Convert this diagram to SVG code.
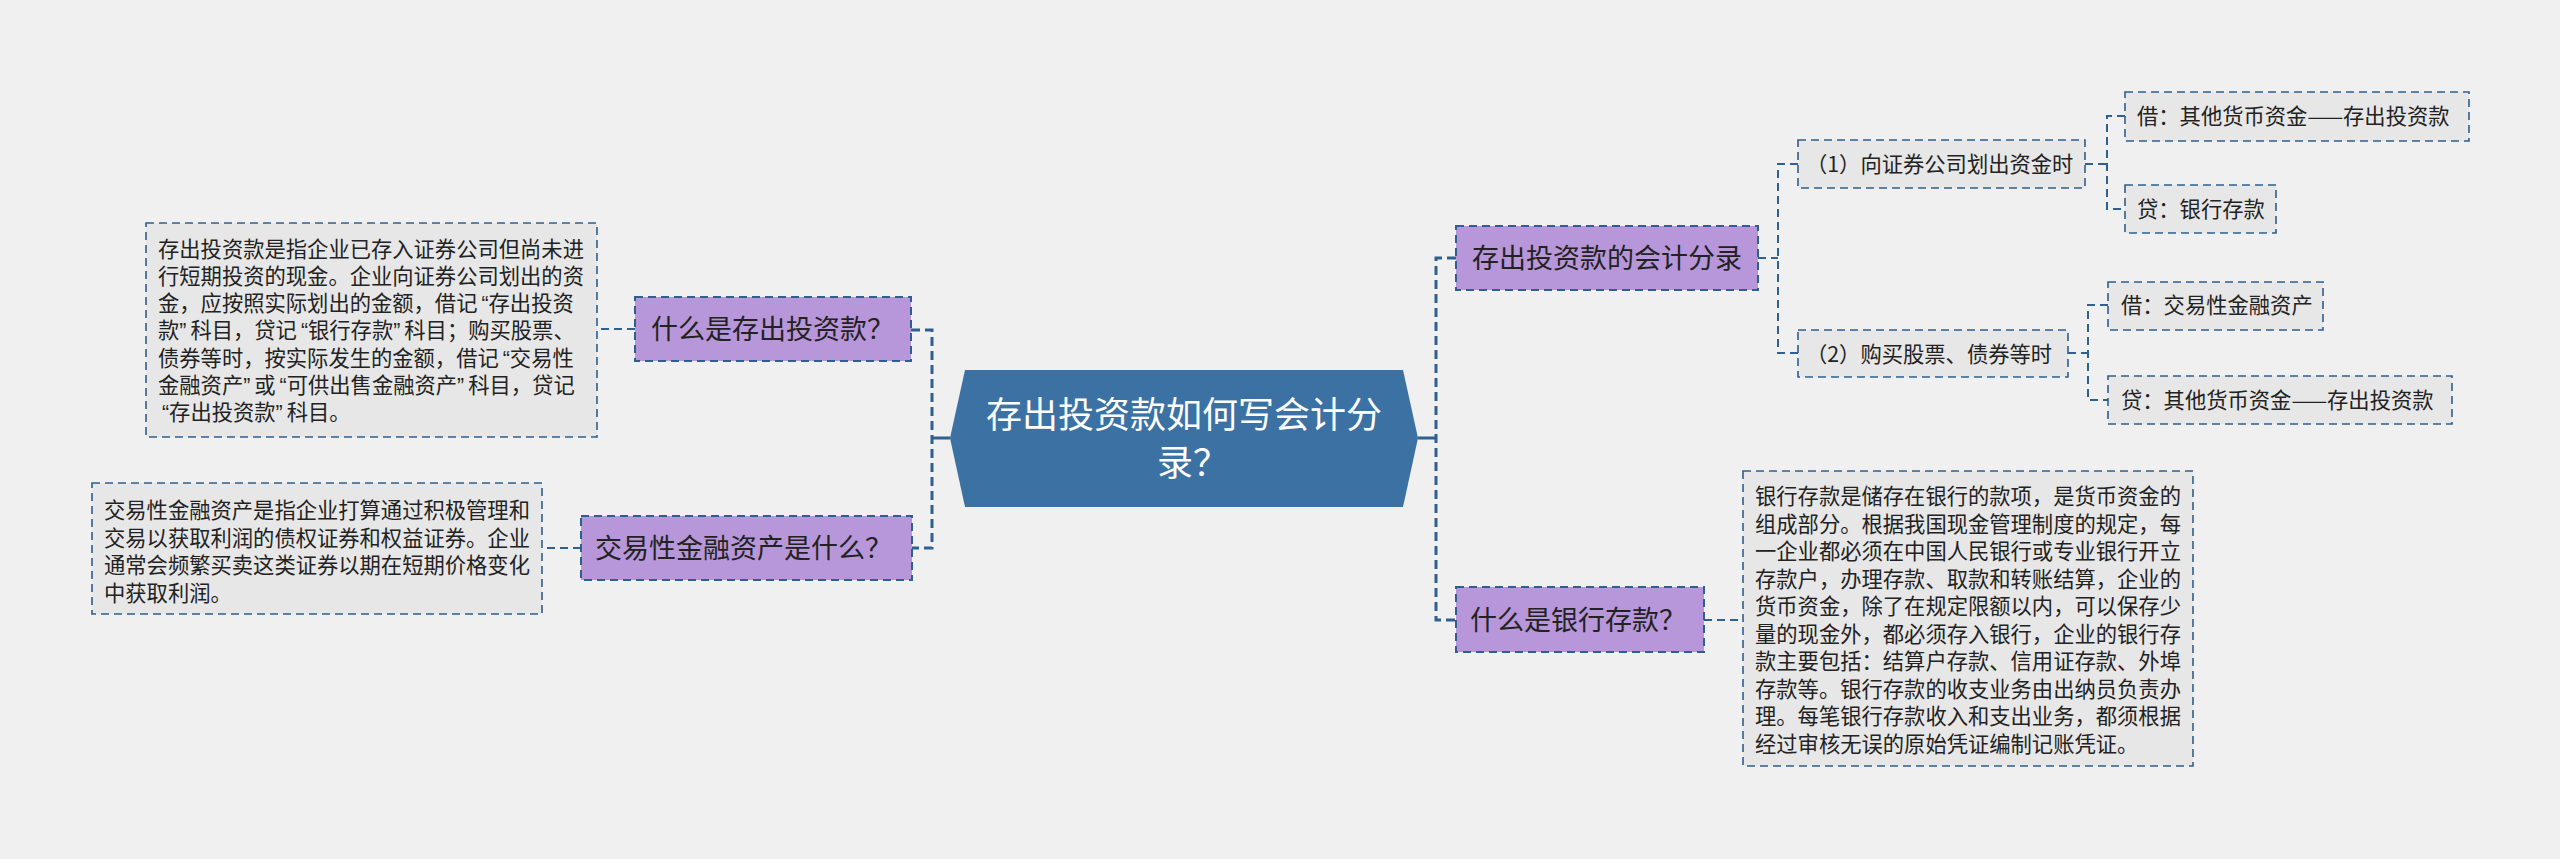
<svg xmlns="http://www.w3.org/2000/svg" width="2560" height="859" viewBox="0 0 2560 859">
<style>
.bg{fill:#f0f0f0}
.topic{fill:#b796d9;stroke:#2f5f8c;stroke-width:2;stroke-dasharray:8 5}
.box{fill:#e7e7e7;stroke:#2f5f8c;stroke-width:1.6;stroke-dasharray:8 5}
.t{font-family:"Noto Sans CJK SC","Noto Sans",sans-serif;fill:#222}
.s{font-size:21.3px}
.m{font-size:27px}
.c{font-size:36px;fill:#ffffff}
.q{font-family:"Liberation Sans",Arial,sans-serif}
.qc{font-family:"Liberation Sans",Arial,sans-serif;letter-spacing:4px}
.con{fill:none;stroke:#2f6090;stroke-width:2;stroke-dasharray:8 5}
.con1{fill:none;stroke:#2f6090;stroke-width:3;stroke-dasharray:9 5}
.solid{fill:none;stroke:#2f6090;stroke-width:3}
</style>
<rect class="bg" x="0" y="0" width="2560" height="859"/>
<g id="connectors">
<path class="solid" d="M950 438 H932"/>
<path class="con1" d="M911 330 H932 V548 H912"/>
<path class="solid" d="M1418 438 H1436"/>
<path class="con1" d="M1456 258 H1436 V620 H1456"/>
<path class="con" d="M635 329 H597"/>
<path class="con" d="M581 548 H542"/>
<path class="con" d="M1758 258 H1778"/>
<path class="con" d="M1798 164 H1778 V353 H1798"/>
<path class="con" d="M2085 164 H2107"/>
<path class="con" d="M2125 116 H2107 V209 H2125"/>
<path class="con" d="M2068 353 H2088"/>
<path class="con" d="M2108 305 H2088 V400 H2108"/>
<path class="con" d="M1704 620 H1743"/>
</g>
<g id="root">
<polygon points="965,370 1403,370 1418,438 1403,507 965,507 950,438" fill="#3c71a4"/>
<text class="t c" x="1184" y="428" text-anchor="middle">存出投资款如何写会计分</text>
<text class="t c" x="1157" y="476">录？</text>
</g>
<g id="n-what-deposit">
<rect class="topic" x="635" y="297" width="276" height="64"/>
<text class="t m" x="651" y="339">什么是存出投资款？</text>
</g>
<g id="n-what-deposit-desc">
<rect class="box" x="146" y="223" width="451" height="214"/>
<text class="t s" x="158" y="256.5">存出投资款是指企业已存入证券公司但尚未进</text>
<text class="t s" x="158" y="283.8">行短期投资的现金。企业向证券公司划出的资</text>
<text class="t s" x="158" y="311.1">金，应按照实际划出的金额，借记<tspan class="q" dx="4">“</tspan>存出投资</text>
<text class="t s" x="158" y="338.4">款<tspan class="qc">”</tspan>科目，贷记<tspan class="q" dx="4">“</tspan>银行存款<tspan class="qc">”</tspan>科目；购买股票、</text>
<text class="t s" x="158" y="365.7">债券等时，按实际发生的金额，借记<tspan class="q" dx="4">“</tspan>交易性</text>
<text class="t s" x="158" y="393">金融资产<tspan class="qc">”</tspan>或<tspan class="q" dx="4">“</tspan>可供出售金融资产<tspan class="qc">”</tspan>科目，贷记</text>
<text class="t s" x="158" y="420.3"><tspan class="q" dx="4">“</tspan>存出投资款<tspan class="qc">”</tspan>科目。</text>
</g>
<g id="n-trading">
<rect class="topic" x="581" y="516" width="331" height="64"/>
<text class="t m" x="595" y="558">交易性金融资产是什么？</text>
</g>
<g id="n-trading-desc">
<rect class="box" x="92" y="483" width="450" height="131"/>
<text class="t s" x="104" y="518">交易性金融资产是指企业打算通过积极管理和</text>
<text class="t s" x="104" y="545.7">交易以获取利润的债权证券和权益证券。企业</text>
<text class="t s" x="104" y="573.4">通常会频繁买卖这类证券以期在短期价格变化</text>
<text class="t s" x="104" y="601">中获取利润。</text>
</g>
<g id="n-entries">
<rect class="topic" x="1456" y="226" width="302" height="64"/>
<text class="t m" x="1472" y="268">存出投资款的会计分录</text>
</g>
<g id="n-step1">
<rect class="box" x="1798" y="140" width="287" height="48"/>
<text class="t s" x="1806" y="172">（1）向证券公司划出资金时</text>
</g>
<g id="n-step1-dr">
<rect class="box" x="2125" y="92" width="344" height="49"/>
<text class="t s" x="2137" y="124">借：其他货币资金——存出投资款</text>
</g>
<g id="n-step1-cr">
<rect class="box" x="2125" y="185" width="151" height="48"/>
<text class="t s" x="2137" y="217">贷：银行存款</text>
</g>
<g id="n-step2">
<rect class="box" x="1798" y="330" width="270" height="47"/>
<text class="t s" x="1806" y="361.5">（2）购买股票、债券等时</text>
</g>
<g id="n-step2-dr">
<rect class="box" x="2108" y="282" width="215" height="48"/>
<text class="t s" x="2121" y="313">借：交易性金融资产</text>
</g>
<g id="n-step2-cr">
<rect class="box" x="2108" y="376" width="344" height="48"/>
<text class="t s" x="2121" y="408">贷：其他货币资金——存出投资款</text>
</g>
<g id="n-bank">
<rect class="topic" x="1456" y="587" width="248" height="65"/>
<text class="t m" x="1470" y="630">什么是银行存款？</text>
</g>
<g id="n-bank-desc">
<rect class="box" x="1743" y="471" width="450" height="295"/>
<text class="t s" x="1755" y="504">银行存款是储存在银行的款项，是货币资金的</text>
<text class="t s" x="1755" y="531.5">组成部分。根据我国现金管理制度的规定，每</text>
<text class="t s" x="1755" y="559">一企业都必须在中国人民银行或专业银行开立</text>
<text class="t s" x="1755" y="586.5">存款户，办理存款、取款和转账结算，企业的</text>
<text class="t s" x="1755" y="614">货币资金，除了在规定限额以内，可以保存少</text>
<text class="t s" x="1755" y="641.5">量的现金外，都必须存入银行，企业的银行存</text>
<text class="t s" x="1755" y="669">款主要包括：结算户存款、信用证存款、外埠</text>
<text class="t s" x="1755" y="696.5">存款等。银行存款的收支业务由出纳员负责办</text>
<text class="t s" x="1755" y="724">理。每笔银行存款收入和支出业务，都须根据</text>
<text class="t s" x="1755" y="751.5">经过审核无误的原始凭证编制记账凭证。</text>
</g>
</svg>
